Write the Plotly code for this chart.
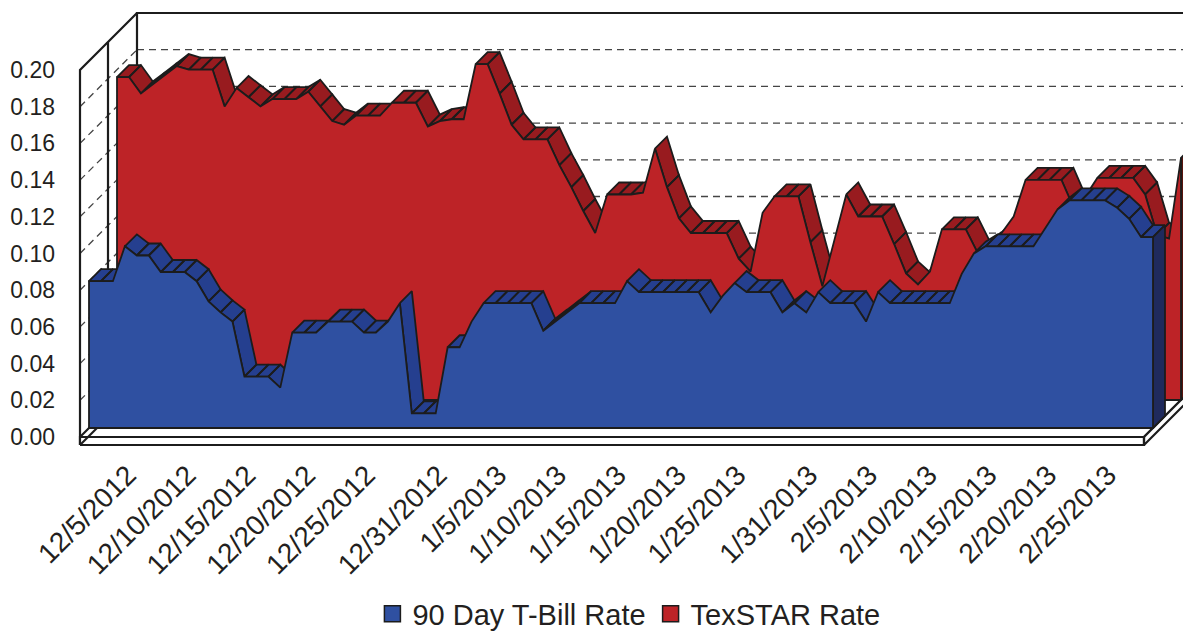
import plotly.graph_objects as go
import pandas as pd

# ---------------- data ----------------
dates = pd.date_range("2012-12-01", "2013-02-28", freq="D")
categories = [f"{d.month}/{d.day}/{d.year}" for d in dates]

tbill = [0.080, 0.080, 0.080, 0.099, 0.094, 0.094, 0.085, 0.085, 0.085, 0.080,
         0.069, 0.063, 0.058, 0.028, 0.028, 0.028, 0.022, 0.052, 0.052, 0.052,
         0.058, 0.058, 0.058, 0.052, 0.052, 0.058, 0.068, 0.008, 0.008, 0.008,
         0.044, 0.044, 0.058, 0.068, 0.068, 0.068, 0.068, 0.068, 0.053, 0.058,
         0.063, 0.068, 0.068, 0.068, 0.068, 0.080, 0.074, 0.074, 0.074, 0.074,
         0.074, 0.074, 0.063, 0.072, 0.079, 0.074, 0.074, 0.074, 0.063, 0.068,
         0.063, 0.074, 0.068, 0.068, 0.068, 0.058, 0.074, 0.068, 0.068, 0.068,
         0.068, 0.068, 0.068, 0.084, 0.095, 0.099, 0.099, 0.099, 0.099, 0.099,
         0.109, 0.119, 0.124, 0.124, 0.124, 0.124, 0.120, 0.114, 0.104, 0.104]

texstar = [0.176, 0.176, 0.167, 0.172, 0.177, 0.182, 0.180, 0.180, 0.180, 0.160,
           0.170, 0.165, 0.160, 0.164, 0.164, 0.164, 0.168, 0.160, 0.152, 0.150,
           0.155, 0.155, 0.155, 0.162, 0.162, 0.162, 0.149, 0.152, 0.153, 0.153,
           0.183, 0.183, 0.167, 0.150, 0.142, 0.142, 0.142, 0.128, 0.116, 0.103,
           0.091, 0.112, 0.112, 0.112, 0.113, 0.137, 0.116, 0.099, 0.091, 0.091,
           0.091, 0.091, 0.077, 0.070, 0.102, 0.111, 0.111, 0.111, 0.086, 0.062,
           0.087, 0.112, 0.100, 0.100, 0.100, 0.085, 0.069, 0.063, 0.070, 0.093,
           0.093, 0.093, 0.080, 0.085, 0.091, 0.100, 0.120, 0.120, 0.120, 0.120,
           0.105, 0.111, 0.121, 0.121, 0.121, 0.121, 0.112, 0.090, 0.088, 0.132]

x_tick_labels = ["12/5/2012", "12/10/2012", "12/15/2012", "12/20/2012", "12/25/2012",
                 "12/31/2012", "1/5/2013", "1/10/2013", "1/15/2013", "1/20/2013",
                 "1/25/2013", "1/31/2013", "2/5/2013", "2/10/2013", "2/15/2013",
                 "2/20/2013", "2/25/2013"]
y_tick_values = [0.00, 0.02, 0.04, 0.06, 0.08, 0.10, 0.12, 0.14, 0.16, 0.18, 0.20]
series_names = ["90 Day T-Bill Rate", "TexSTAR Rate"]

# ---------------- layout / style constants ----------------
W, H = 1191, 633
L_MARGIN = 54
PLOT_H = 444
X0_PX, Y0_PX = 72.0, 429.0          # front-plane origin (figure pixels)
PX_PER_CAT = 11.955                  # pixels per category
PX_PER_UNIT = 1835.0                 # pixels per rate unit
Y_MAX = 0.20

WALL_D, MID_D, FLOOR_T = 57, 28, 8
BLUE_D, RED_D, THICK = 9, 37, 12

EDGE = "#1c1c1c"
EDGE_W = 1.8
FONT = "Liberation Sans, Arial, sans-serif"
TXT = "#231f20"

n = len(categories)
S_END = n - 1


def proj(s, v, d):
    """oblique projection: depth d (pixels) shifts up-right"""
    return s + d / PX_PER_CAT, v + d / PX_PER_UNIT


def poly(points):
    xs, ys = [], []
    for s, v, d in points:
        x, y = proj(s, v, d)
        xs.append(x)
        ys.append(y)
    return xs, ys


def join(polys, close=True):
    xs, ys = [], []
    for pts in polys:
        px, py = poly(pts + ([pts[0]] if close else []))
        xs += px + [None]
        ys += py + [None]
    return xs, ys


fig = go.Figure()


def add_lines(polys, color=EDGE, width=2, dash=None, close=False, fill=None, fillcolor=None):
    xs, ys = join(polys, close=close)
    fig.add_trace(go.Scatter(x=xs, y=ys, mode="lines",
                             line=dict(color=color, width=width, dash=dash),
                             fill=fill, fillcolor=fillcolor,
                             hoverinfo="skip", showlegend=False))


# ---------------- walls & floor ----------------
S_FAR = S_END + 10
grid_vals = [v for v in y_tick_values if 0 < v < Y_MAX]
# back wall gridlines
add_lines([[(0, v, WALL_D), (S_FAR, v, WALL_D)] for v in grid_vals],
          color="#444444", width=1.3, dash="7px,5px")
# left wall gridlines
add_lines([[(0, v, 0), (0, v, WALL_D)] for v in grid_vals],
          color="#444444", width=1.3, dash="7px,5px")
# back wall outline
add_lines([[(0, 0, WALL_D), (0, Y_MAX, WALL_D), (S_FAR, Y_MAX, WALL_D)]], width=2.2)
# left wall outline
fl = FLOOR_T / PX_PER_UNIT
add_lines([[(0, -fl, 0), (0, Y_MAX, 0), (0, Y_MAX, WALL_D)],
           [(0, 0, MID_D), (0, Y_MAX, MID_D)]], width=2.2)
# floor top surface, front face, right face
add_lines([[(0, 0, 0), (S_END, 0, 0), (S_END, 0, WALL_D), (0, 0, WALL_D)]],
          width=2.2, close=True, fill="toself", fillcolor="white")
add_lines([[(0, -fl, 0), (S_END, -fl, 0), (S_END, 0, 0), (0, 0, 0)],
           [(S_END, -fl, 0), (S_END, -fl, WALL_D), (S_END, 0, WALL_D), (S_END, 0, 0)]],
          width=2.2, close=True, fill="toself", fillcolor="white")
add_lines([[(0, -fl, 0), (0, -fl, WALL_D)]], width=2.2)


# ---------------- series ----------------
def add_series(vals, d0, c_front, c_band, c_side):
    bands = []
    for i in range(len(vals) - 1):
        rise_px = (vals[i + 1] - vals[i]) * PX_PER_UNIT
        if rise_px < PX_PER_CAT:  # top surface faces the viewer
            bands.append([(i, vals[i], d0), (i + 1, vals[i + 1], d0),
                          (i + 1, vals[i + 1], d0 + THICK), (i, vals[i], d0 + THICK)])
    add_lines(bands, width=EDGE_W, close=True, fill="toself", fillcolor=c_band)
    last = len(vals) - 1
    add_lines([[(last, 0, d0), (last, vals[last], d0),
                (last, vals[last], d0 + THICK), (last, 0, d0 + THICK)]],
              width=EDGE_W, close=True, fill="toself", fillcolor=c_side)
    front = [(0, 0, d0)] + [(i, v, d0) for i, v in enumerate(vals)] + [(last, 0, d0)]
    add_lines([front], width=EDGE_W, close=True, fill="toself", fillcolor=c_front)


add_series(texstar, RED_D, "#bd2327", "#981b1f", "#5a140d")
add_series(tbill, BLUE_D, "#2f50a1", "#253f8f", "#1f2a5c")

# legend entries
for name, col in zip(series_names, ["#2f50a1", "#bd2327"]):
    fig.add_trace(go.Scatter(x=[None], y=[None], mode="markers", name=name,
                             marker=dict(symbol="square", size=16, color=col,
                                         line=dict(color=EDGE, width=1.5))))

# ---------------- axes ----------------
tick_pos = [categories.index(t) for t in x_tick_labels]
x_range = [(L_MARGIN - X0_PX) / PX_PER_CAT, (W - X0_PX) / PX_PER_CAT]
y_range = [(Y0_PX - PLOT_H) / PX_PER_UNIT, Y0_PX / PX_PER_UNIT]

fig.update_xaxes(range=x_range, showgrid=False, zeroline=False, showline=False,
                 tickmode="array", tickvals=tick_pos, ticktext=x_tick_labels,
                 tickangle=-45, tickfont=dict(family=FONT, size=28, color=TXT),
                 ticks="", ticklabelstandoff=0)
fig.update_yaxes(range=y_range, showgrid=False, zeroline=False, showline=False,
                 tickmode="array", tickvals=y_tick_values,
                 ticktext=[f"{v:.2f}" for v in y_tick_values],
                 tickfont=dict(family=FONT, size=23, color=TXT),
                 ticks="", ticklabelstandoff=6)

fig.update_layout(
    width=W, height=H,
    margin=dict(l=L_MARGIN, r=0, t=0, b=H - PLOT_H, autoexpand=False),
    paper_bgcolor="white", plot_bgcolor="white",
    showlegend=True,
    legend=dict(orientation="h", x=0.4986, xanchor="center", yref="container",
                y=0.043, yanchor="middle", font=dict(family=FONT, size=29, color=TXT),
                itemwidth=30, tracegroupgap=0),
    hovermode=False,
)

fig.write_html("out.html")
